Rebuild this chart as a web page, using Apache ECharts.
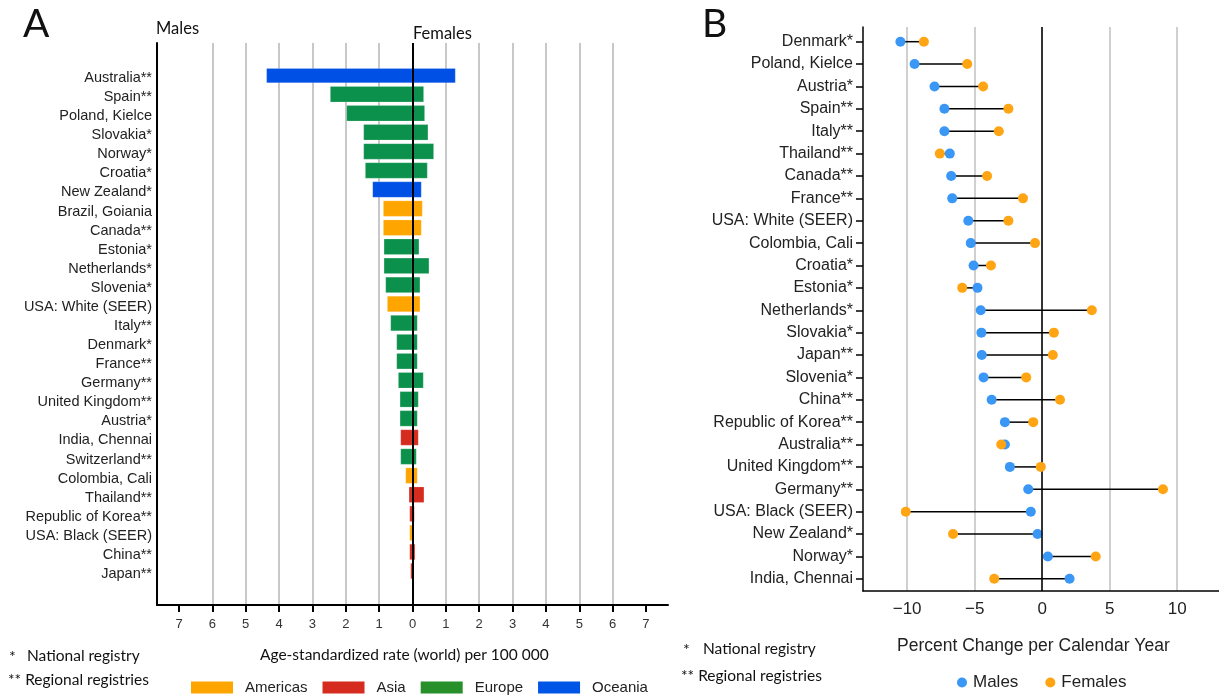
<!DOCTYPE html>
<html><head><meta charset="utf-8">
<script src="https://cdn.jsdelivr.net/npm/echarts@6/dist/echarts.min.js"></script>
<style>html,body{margin:0;padding:0;background:#fff}#c{width:1219px;height:697px}</style>
</head><body><div id="c"></div>
<script>
// ---------- Panel A data ----------
const rateCountries = ['Australia**','Spain**','Poland, Kielce','Slovakia*','Norway*','Croatia*','New Zealand*','Brazil, Goiania','Canada**','Estonia*','Netherlands*','Slovenia*','USA: White (SEER)','Italy**','Denmark*','France**','Germany**','United Kingdom**','Austria*','India, Chennai','Switzerland**','Colombia, Cali','Thailand**','Republic of Korea**','USA: Black (SEER)','China**','Japan**'];
const rateRegion = ['Oceania','Europe','Europe','Europe','Europe','Europe','Oceania','Americas','Americas','Europe','Europe','Europe','Americas','Europe','Europe','Europe','Europe','Europe','Europe','Asia','Europe','Americas','Asia','Asia','Americas','Asia','Asia'];
const maleRate = [4.38,2.47,1.98,1.47,1.47,1.42,1.20,0.88,0.88,0.86,0.86,0.81,0.76,0.66,0.48,0.48,0.43,0.38,0.38,0.36,0.36,0.21,0.11,0.09,0.09,0.09,0.06];
const femaleRate = [1.29,0.34,0.37,0.47,0.64,0.45,0.27,0.30,0.27,0.20,0.50,0.23,0.23,0.15,0.15,0.15,0.33,0.18,0.15,0.18,0.12,0.15,0.35,0.06,0.05,0.08,0.05];
const rateTicks = [-7,-6,-5,-4,-3,-2,-1,0,1,2,3,4,5,6,7];
const regionNames = ['Americas','Asia','Europe','Oceania'];

// ---------- Panel B data ----------
const changeCountries = ['Denmark*','Poland, Kielce','Austria*','Spain**','Italy**','Thailand**','Canada**','France**','USA: White (SEER)','Colombia, Cali','Croatia*','Estonia*','Netherlands*','Slovakia*','Japan**','Slovenia*','China**','Republic of Korea**','Australia**','United Kingdom**','Germany**','USA: Black (SEER)','New Zealand*','Norway*','India, Chennai'];
const maleChange = [-10.5,-9.45,-7.97,-7.24,-7.24,-6.84,-6.74,-6.66,-5.47,-5.29,-5.08,-4.79,-4.55,-4.5,-4.47,-4.34,-3.74,-2.76,-2.76,-2.39,-1.03,-0.84,-0.34,0.42,2.03];
const femaleChange = [-8.76,-5.55,-4.37,-2.5,-3.21,-7.58,-4.08,-1.42,-2.5,-0.53,-3.79,-5.92,3.68,0.87,0.79,-1.18,1.32,-0.66,-3.03,-0.1,8.95,-10.1,-6.6,3.97,-3.55];
const changeTicks = [-10,-5,0,5,10];

// ---------- styles ----------
const barColors = {Americas:'#FFA500', Asia:'#D62B1F', Europe:'#0B914B', Oceania:'#0050E6'};
const legendColors = {Americas:'#FFA500', Asia:'#D62B1F', Europe:'#27902A', Oceania:'#0055E6'};
const ARIAL = '"Liberation Sans", Arial, sans-serif';
const CAL = 'Lato, "Open Sans", sans-serif';
const A_MIN = -7.66, A_MAX = 7.66;
const B_MIN = -13.27, B_MAX = 13.1;

const chart = echarts.init(document.getElementById('c'), null, {renderer:'canvas'});

function txt(left, top, text, size, family, extra) {
  return Object.assign({type:'text', left, top, silent:true,
    style:{text, fontSize:size, fontFamily:family, fill:'#111'}}, extra || {});
}

const option = {
  animation:false,
  backgroundColor:'#fff',
  grid:[
    {left:157, right:551, top:43, bottom:92},
    {left:157, right:551, top:68.5, bottom:113.5},
    {left:863, right:0, top:27, bottom:106},
    {left:863, right:0, top:30.5, bottom:107}
  ],
  xAxis:[
    {type:'value', gridIndex:0, min:A_MIN, max:A_MAX, minInterval:1, maxInterval:1,
      axisLine:{show:true, onZero:false, lineStyle:{color:'#000', width:2}},
      axisTick:{show:true, customValues:rateTicks, length:7, lineStyle:{color:'#000', width:2}},
      axisLabel:{customValues:rateTicks, formatter:v=>String(Math.abs(v)), fontSize:13, color:'#333', fontFamily:ARIAL, margin:13},
      splitLine:{show:true, showMinLine:false, showMaxLine:false, lineStyle:{color:'#c8c8c8', width:2}}},
    {type:'value', gridIndex:1, min:A_MIN, max:A_MAX, show:false},
    {type:'value', gridIndex:2, min:B_MIN, max:B_MAX,
      axisLine:{show:true, onZero:false, lineStyle:{color:'#000', width:1.5}},
      axisTick:{show:false},
      axisLabel:{customValues:changeTicks, formatter:v=>(v<0?'\u2212'+Math.abs(v):String(v)), fontSize:17, color:'#222', fontFamily:ARIAL, margin:10},
      splitLine:{show:true, showMinLine:false, showMaxLine:false, lineStyle:{color:'#c0c0c0', width:1.5}}},
    {type:'value', gridIndex:3, min:B_MIN, max:B_MAX, show:false}
  ],
  yAxis:[
    {type:'value', gridIndex:0, min:0, max:1, axisLine:{show:true, onZero:false, lineStyle:{color:'#000', width:2}},
      axisTick:{show:false}, axisLabel:{show:false}, splitLine:{show:false}},
    {type:'category', gridIndex:1, data:rateCountries, inverse:true,
      axisLine:{show:false, onZero:false}, axisTick:{show:false},
      axisLabel:{interval:0, fontSize:14.5, color:'#222', fontFamily:ARIAL, margin:5}},
    {type:'value', gridIndex:2, min:0, max:1, axisLine:{show:true, onZero:false, lineStyle:{color:'#000', width:1.5}},
      axisTick:{show:false}, axisLabel:{show:false}, splitLine:{show:false}},
    {type:'category', gridIndex:3, data:changeCountries, inverse:true,
      axisLine:{show:false, onZero:false}, axisTick:{show:true, alignWithLabel:true, length:7, lineStyle:{color:'#000', width:1.5}},
      axisLabel:{interval:0, fontSize:16, color:'#222', fontFamily:ARIAL, margin:10}}
  ],
  legend:[
    {data:regionNames, left:191, top:680, padding:0, icon:'rect', itemWidth:42, itemHeight:12, itemGap:15,
      selectedMode:false, textStyle:{fontSize:15, fontFamily:ARIAL, color:'#222', padding:[0,0,0,7]}},
    {data:['Males','Females'], left:957, top:674, padding:0, icon:'circle', itemWidth:10, itemHeight:10, itemGap:27,
      selectedMode:false, textStyle:{fontSize:17, fontFamily:ARIAL, color:'#222', padding:[0,0,0,1]}}
  ],
  series:[
    {type:'bar', name:'A-males', xAxisIndex:1, yAxisIndex:1, stack:'rate', barWidth:16,
      data:maleRate.map((v,i)=>({value:-v, itemStyle:{color:barColors[rateRegion[i]]}})),
      itemStyle:{borderColor:'rgba(255,255,255,0.35)', borderWidth:0.5}},
    {type:'bar', name:'A-females', xAxisIndex:1, yAxisIndex:1, stack:'rate', barWidth:16,
      data:femaleRate.map((v,i)=>({value:v, itemStyle:{color:barColors[rateRegion[i]]}})),
      itemStyle:{borderColor:'rgba(255,255,255,0.35)', borderWidth:0.5}},
    ...regionNames.map(r=>({type:'bar', name:r, xAxisIndex:1, yAxisIndex:1, data:[], itemStyle:{color:legendColors[r]}})),
    {type:'scatter', name:'A-zero', xAxisIndex:0, yAxisIndex:0, data:[], z:5,
      markLine:{silent:true, symbol:'none', label:{show:false}, lineStyle:{color:'#000', width:2, type:'solid'}, data:[{xAxis:0}]}},
    {type:'scatter', name:'B-zero', xAxisIndex:2, yAxisIndex:2, data:[], z:1,
      markLine:{silent:true, symbol:'none', label:{show:false}, lineStyle:{color:'#000', width:1.5, type:'solid'}, data:[{xAxis:0}]}},
    {type:'custom', name:'B-conn', xAxisIndex:3, yAxisIndex:3, z:3,
      data:changeCountries.map((c,i)=>[maleChange[i], femaleChange[i], i]),
      encode:{x:[0,1], y:2},
      renderItem:(params, api)=>{
        const p1 = api.coord([api.value(0), api.value(2)]);
        const p2 = api.coord([api.value(1), api.value(2)]);
        return {type:'line', shape:{x1:p1[0], y1:p1[1], x2:p2[0], y2:p2[1]}, style:{stroke:'#000', lineWidth:1.5}};
      }},
    {type:'scatter', name:'Males', xAxisIndex:3, yAxisIndex:3, z:4, symbolSize:10,
      itemStyle:{color:'#3A97F5', opacity:1}, data:maleChange.map((v,i)=>[v,i])},
    {type:'scatter', name:'Females', xAxisIndex:3, yAxisIndex:3, z:5, symbolSize:10,
      itemStyle:{color:'#FFA514', opacity:1}, data:femaleChange.map((v,i)=>[v,i])}
  ],
  graphic:[
    txt(23, 5, 'A', 39, CAL),
    txt(702, 5, 'B', 39, CAL),
    txt(156, 20, 'Males', 16.5, CAL),
    txt(413, 25, 'Females', 16.5, CAL),
    txt(9, 649, '*', 16, CAL),
    txt(27, 648, 'National registry', 15.5, CAL),
    txt(8, 672, '** Regional registries', 15.5, CAL),
    {type:'text', left:260, top:647, silent:true, style:{text:'Age-standardized rate (world) per 100 000', fontSize:15.5, fontFamily:CAL, fill:'#111'}},
    txt(683, 642, '*', 16, CAL),
    txt(703, 641, 'National registry', 15.5, CAL),
    txt(681, 668, '** Regional registries', 15.5, CAL),
    {type:'text', left:897, top:637, silent:true, style:{text:'Percent Change per Calendar Year', fontSize:17.5, fontFamily:ARIAL, fill:'#222'}}
  ]
};
chart.setOption(option);
</script>
</body></html>
